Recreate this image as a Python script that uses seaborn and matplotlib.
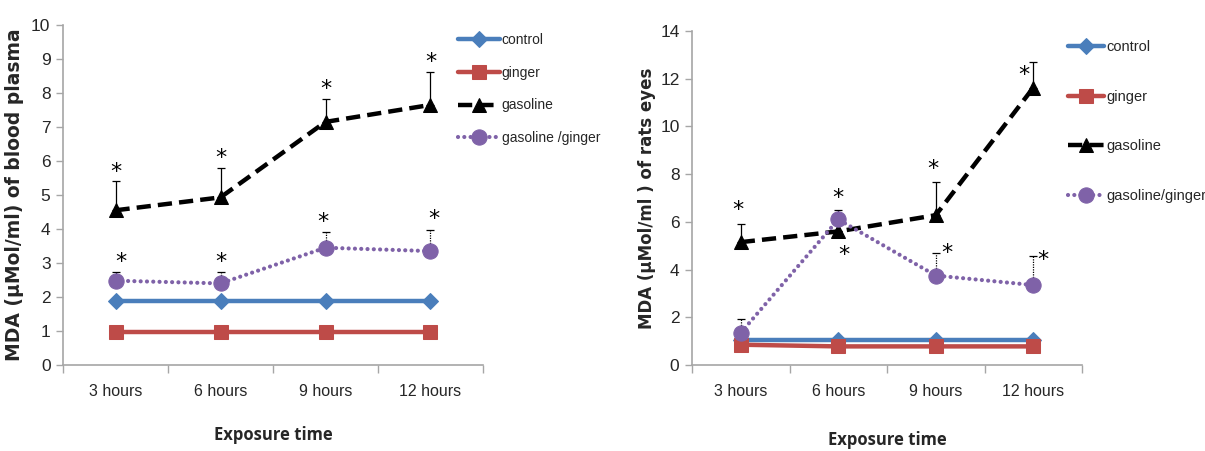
import matplotlib
matplotlib.use("Agg")
import matplotlib.pyplot as plt
from matplotlib import font_manager
import seaborn as sns
import numpy as np

# ---------------- data ----------------
categories = ["3 hours", "6 hours", "9 hours", "12 hours"]
series_names_left = ["control", "ginger", "gasoline", "gasoline /ginger"]
series_names_right = ["control", "ginger", "gasoline", "gasoline/ginger"]

plasma_control = [1.88, 1.88, 1.88, 1.88]
plasma_ginger = [0.97, 0.97, 0.97, 0.97]
plasma_gasoline = [4.55, 4.93, 7.15, 7.65]
plasma_gasoline_err = [0.85, 0.87, 0.68, 0.97]
plasma_gas_ginger = [2.48, 2.40, 3.45, 3.35]
plasma_gas_ginger_err = [0.25, 0.33, 0.45, 0.63]

eyes_control = [1.05, 1.05, 1.05, 1.05]
eyes_ginger = [0.85, 0.78, 0.78, 0.78]
eyes_gasoline = [5.15, 5.60, 6.28, 11.62]
eyes_gasoline_err = [0.78, 0.0, 1.37, 1.08]
eyes_gas_ginger = [1.35, 6.10, 3.75, 3.35]
eyes_gas_ginger_err = [0.58, 0.40, 0.95, 1.22]

# ---------------- fonts ----------------
sns.set_style("white")
installed = {f.name for f in font_manager.fontManager.ttflist}
narrow = "Liberation Sans Narrow" if "Liberation Sans Narrow" in installed else "Liberation Sans"
plt.rcParams["font.family"] = [narrow, "DejaVu Sans"]

BLUE = "#4a7ebb"
RED = "#be4b48"
PURPLE = "#7f62a8"
BLACK = "#000000"
AXIS_GRAY = "#a6a6a6"

fig = plt.figure(figsize=(12.05, 4.51), dpi=100)
W, H = 1205, 451


def ax_rect(x0, x1, ytop, ybot):
    return [x0 / W, 1 - ybot / H, (x1 - x0) / W, (ybot - ytop) / H]


axL = fig.add_axes(ax_rect(63, 483, 25, 365))
axR = fig.add_axes(ax_rect(692, 1082, 31, 365))

xpos = np.arange(len(categories))


def draw_series(ax, control, ginger, gas, gas_err, gg, gg_err):
    sns.lineplot(x=xpos, y=control, ax=ax, color=BLUE, linewidth=3.2,
                 marker="D", markersize=8, markeredgecolor=BLUE, zorder=3)
    h1 = ax.lines[-1]
    sns.lineplot(x=xpos, y=ginger, ax=ax, color=RED, linewidth=3.2,
                 marker="s", markersize=10, markeredgecolor=RED, zorder=3)
    h2 = ax.lines[-1]
    ax.errorbar(xpos, gas, yerr=[np.zeros(4), gas_err], fmt="none",
                ecolor="black", elinewidth=0.9, capsize=3, capthick=0.9, zorder=2)
    sns.lineplot(x=xpos, y=gas, ax=ax, color=BLACK, linewidth=3.2,
                 marker="^", markersize=10, markeredgecolor=BLACK, zorder=4)
    h3 = ax.lines[-1]
    h3.set_dashes([3.2, 1.6])
    h3.set_dash_capstyle("butt")
    eb2 = ax.errorbar(xpos, gg, yerr=[np.zeros(4), gg_err], fmt="none",
                      ecolor="black", elinewidth=0.9, capsize=3, capthick=0.9, zorder=2)
    for c in eb2[2]:
        c.set_linestyle((0, (1, 1)))
    sns.lineplot(x=xpos, y=gg, ax=ax, color=PURPLE, linewidth=3.0,
                 marker="o", markersize=11, markeredgecolor=PURPLE, zorder=4)
    h4 = ax.lines[-1]
    h4.set_dashes([0.01, 1.5])
    h4.set_dash_capstyle("round")
    return [h1, h2, h3, h4]


hL = draw_series(axL, plasma_control, plasma_ginger, plasma_gasoline, plasma_gasoline_err,
                 plasma_gas_ginger, plasma_gas_ginger_err)
hR = draw_series(axR, eyes_control, eyes_ginger, eyes_gasoline, eyes_gasoline_err,
                 eyes_gas_ginger, eyes_gas_ginger_err)


def style_axis(ax, ymax, ystep, ylabel, ylabel_size, ylabel_pad, xlabel_pad):
    ax.set_xlim(-0.5, len(categories) - 0.5)
    ax.set_ylim(0, ymax)
    ticks = np.arange(0, ymax + 0.01, ystep)
    ax.set_yticks(ticks)
    ax.set_yticklabels([f"{int(v)}" for v in ticks])
    ax.set_xticks(np.arange(-0.5, len(categories), 1.0))
    ax.set_xticklabels([])
    ax.set_xticks(xpos, minor=True)
    ax.set_xticklabels(categories, minor=True)
    ax.tick_params(axis="x", which="major", direction="out", length=6, width=1,
                   color=AXIS_GRAY, bottom=True)
    ax.tick_params(axis="x", which="minor", length=0, pad=14, labelsize=11.5)
    ax.tick_params(axis="y", direction="out", length=5, width=1, color=AXIS_GRAY,
                   left=True, labelsize=12.5, pad=4)
    for s in ["top", "right"]:
        ax.spines[s].set_visible(False)
    for s in ["left", "bottom"]:
        ax.spines[s].set_color(AXIS_GRAY)
        ax.spines[s].set_linewidth(1.2)
    ax.set_ylabel(ylabel, fontsize=ylabel_size, fontweight="bold", family="DejaVu Sans",
                  labelpad=ylabel_pad)
    ax.set_xlabel("Exposure time", fontsize=12, fontweight="bold", labelpad=xlabel_pad,
                  family=["Open Sans", "DejaVu Sans"])
    ax.grid(False)
    ax.set_facecolor("white")


style_axis(axL, 10, 1, "MDA (µMol/ml) of blood plasma", 13.5, 5, 19)
style_axis(axR, 14, 2, "MDA (µMol/ml ) of rats eyes", 12, 3, 23)

# significance stars
star_kw = dict(ha="center", va="center", fontsize=16, color="black",
               family="DejaVu Sans", zorder=6)
for i in range(4):
    axL.text(xpos[i], plasma_gasoline[i] + plasma_gasoline_err[i] + 0.28, "*", **star_kw)
dxL = [0.05, 0.0, -0.02, 0.03]
for i in range(4):
    axL.text(xpos[i] + dxL[i], plasma_gas_ginger[i] + plasma_gas_ginger_err[i] + 0.3, "*", **star_kw)

axR.text(xpos[0] - 0.03, eyes_gasoline[0] + eyes_gasoline_err[0] + 0.55, "*", **star_kw)
axR.text(xpos[1] + 0.06, eyes_gasoline[1] - 1.0, "*", **star_kw)
axR.text(xpos[2] - 0.03, eyes_gasoline[2] + eyes_gasoline_err[2] + 0.55, "*", **star_kw)
axR.text(xpos[3] - 0.1, eyes_gasoline[3] + 0.55, "*", **star_kw)
axR.text(xpos[1], eyes_gas_ginger[1] + eyes_gas_ginger_err[1] + 0.5, "*", **star_kw)
axR.text(xpos[2] + 0.11, eyes_gas_ginger[2] + eyes_gas_ginger_err[2], "*", **star_kw)
axR.text(xpos[3] + 0.1, eyes_gas_ginger[3] + eyes_gas_ginger_err[3] - 0.15, "*", **star_kw)

# legends
for lg_handles, names, anchor, spacing, hlen, fsz in [
    (hL, series_names_left, (458 / W, 1 - 33 / H), 1.35, 3.0, 10),
    (hR, series_names_right, (1068 / W, 1 - 40 / H), 2.45, 2.5, 10.5),
]:
    fig.legend(lg_handles, names, loc="upper left", bbox_to_anchor=anchor,
               frameon=False, labelspacing=spacing, handlelength=hlen,
               handletextpad=0.15, fontsize=fsz, borderpad=0, borderaxespad=0,
               markerscale=1.0)

fig.savefig("out.png", dpi=100, facecolor="white")
